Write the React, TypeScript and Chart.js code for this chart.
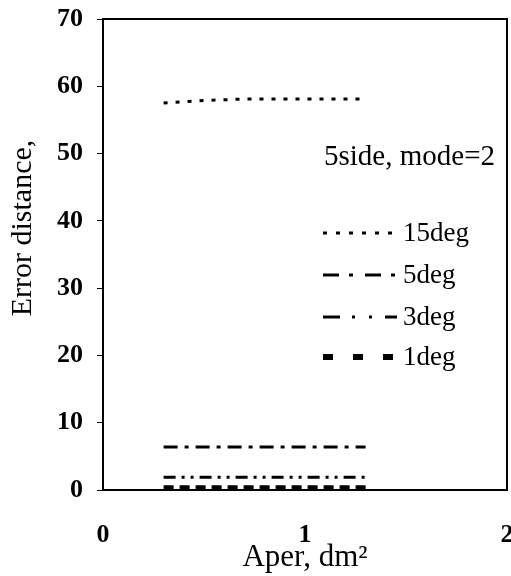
import React, { useEffect, useRef } from "react";
import { Chart, registerables } from "chart.js";

Chart.register(...registerables);

// ---- data ----
const xValues = [0.3, 0.4, 0.5, 0.6, 0.7, 0.8, 0.9, 1.0, 1.1, 1.2, 1.3];
const deg15 = [57.5, 57.7, 57.9, 58.0, 58.1, 58.1, 58.1, 58.1, 58.1, 58.1, 58.1];
const deg5 = [6.4, 6.4, 6.4, 6.4, 6.4, 6.4, 6.4, 6.4, 6.4, 6.4, 6.4];
const deg3 = [1.9, 1.9, 1.9, 1.9, 1.9, 1.9, 1.9, 1.9, 1.9, 1.9, 1.9];
const deg1 = [0.35, 0.35, 0.35, 0.35, 0.35, 0.35, 0.35, 0.35, 0.35, 0.35, 0.35];
const seriesLabels = ["15deg", "5deg", "3deg", "1deg"];
const yTickValues = [0, 10, 20, 30, 40, 50, 60, 70];
const xTickValues = [0, 1, 2];
const legendTitle = "5side, mode=2";
const xTitle = "Aper, dm\u00B2";
const yTitle = "Error distance,";

const SERIF = "'Liberation Serif', 'DejaVu Serif', serif";

const seriesStyles = [
  { dash: [4, 8], width: 3, legendDash: [4, 9], legendWidth: 3 },
  { dash: [14, 7, 4, 7], width: 3, legendDash: [16, 10, 4, 12], legendWidth: 3 },
  { dash: [12, 6, 3, 6, 3, 6], width: 3, legendDash: [17, 12, 3, 14, 3, 13], legendWidth: 3 },
  { dash: [10, 6], width: 5, legendDash: [10, 20], legendWidth: 6 },
];

const seriesValues = [deg15, deg5, deg3, deg1];

const framePlugin = {
  id: "frame",
  afterDatasetsDraw(chart: any) {
    const { ctx, chartArea } = chart;
    ctx.save();
    ctx.strokeStyle = "#000";
    ctx.lineWidth = 2;
    ctx.setLineDash([]);
    ctx.strokeRect(chartArea.left, chartArea.top, chartArea.right - chartArea.left, chartArea.bottom - chartArea.top);
    ctx.restore();
  },
};

const customLegendPlugin = {
  id: "customLegend",
  afterDraw(chart: any, _args: any, opts: any) {
    const { ctx } = chart;
    ctx.save();
    ctx.fillStyle = "#000";
    ctx.font = `29px ${SERIF}`;
    ctx.textAlign = "left";
    ctx.textBaseline = "middle";
    ctx.fillText(opts.title, opts.titleX, opts.titleY);
    ctx.font = `27px ${SERIF}`;
    chart.data.datasets.forEach((ds: any, i: number) => {
      const y = opts.rowY[i];
      const st = opts.styles[i];
      ctx.beginPath();
      ctx.setLineDash(st.legendDash);
      ctx.lineWidth = st.legendWidth;
      ctx.strokeStyle = "#000";
      ctx.lineCap = "butt";
      ctx.moveTo(opts.lineX0, y);
      ctx.lineTo(opts.lineX1, y);
      ctx.stroke();
      ctx.setLineDash([]);
      ctx.fillText(ds.label, opts.textX, y + 1);
    });
    ctx.restore();
  },
};

const yTitlePlugin = {
  id: "yTitleCustom",
  afterDraw(chart: any, _args: any, opts: any) {
    const { ctx } = chart;
    ctx.save();
    ctx.translate(opts.x, opts.y);
    ctx.rotate(-Math.PI / 2);
    ctx.font = `30px ${SERIF}`;
    ctx.fillStyle = "#000";
    ctx.textAlign = "center";
    ctx.textBaseline = "middle";
    ctx.fillText(opts.text, 0, 0);
    ctx.restore();
  },
};

export default function App() {
  const canvasRef = useRef<HTMLCanvasElement | null>(null);

  useEffect(() => {
    if (!canvasRef.current) return;
    const datasets = seriesLabels.map((label, i) => ({
      label,
      data: xValues.map((x, j) => ({ x, y: seriesValues[i][j] })),
      borderColor: "#000",
      backgroundColor: "#000",
      borderWidth: seriesStyles[i].width,
      borderDash: seriesStyles[i].dash,
      pointRadius: 0,
      fill: false,
      tension: 0,
    }));

    const chart = new Chart(canvasRef.current, {
      type: "line",
      data: { datasets },
      plugins: [framePlugin, customLegendPlugin, yTitlePlugin],
      options: {
        animation: false,
        responsive: true,
        maintainAspectRatio: false,
        layout: { padding: { top: 19, right: 4, bottom: 0, left: 0 } },
        plugins: {
          legend: { display: false },
          tooltip: { enabled: false },
          customLegend: {
            title: legendTitle,
            titleX: 324,
            titleY: 157,
            rowY: [233, 275, 317, 357],
            lineX0: 323,
            lineX1: 397,
            textX: 403,
            styles: seriesStyles,
          },
          yTitleCustom: { text: yTitle, x: 23, y: 228 },
        } as any,
        scales: {
          x: {
            type: "linear",
            min: 0,
            max: 2,
            afterBuildTicks: (scale: any) => {
              scale.ticks = xTickValues.map((v) => ({ value: v }));
            },
            afterFit: (scale: any) => {
              scale.height = 86;
              scale.paddingLeft = 0;
              scale.paddingRight = 0;
            },
            ticks: {
              color: "#000",
              padding: 22,
              maxRotation: 0,
              font: { family: SERIF, size: 26, weight: "bold" },
            },
            grid: { display: false },
            border: { display: true, color: "#000", width: 2 },
            title: {
              display: true,
              text: xTitle,
              color: "#000",
              font: { family: SERIF, size: 31 },
              padding: { top: 0, bottom: 0 },
            },
          },
          y: {
            type: "linear",
            min: 0,
            max: 70,
            afterBuildTicks: (scale: any) => {
              scale.ticks = yTickValues.map((v) => ({ value: v }));
            },
            afterFit: (scale: any) => {
              scale.width = 103;
              scale.paddingTop = 0;
              scale.paddingBottom = 0;
            },
            ticks: {
              color: "#000",
              padding: 14,
              font: { family: SERIF, size: 26, weight: "bold" },
            },
            grid: {
              display: true,
              drawOnChartArea: false,
              drawTicks: true,
              tickLength: 6,
              color: "#000",
              lineWidth: 1,
            },
            border: { display: true, color: "#000", width: 2 },
          },
        },
      } as any,
    });
    return () => chart.destroy();
  }, []);

  return (
    <div style={{ position: "absolute", left: 0, top: 0, width: 511, height: 576, background: "#fff" }}>
      <canvas ref={canvasRef} />
    </div>
  );
}
